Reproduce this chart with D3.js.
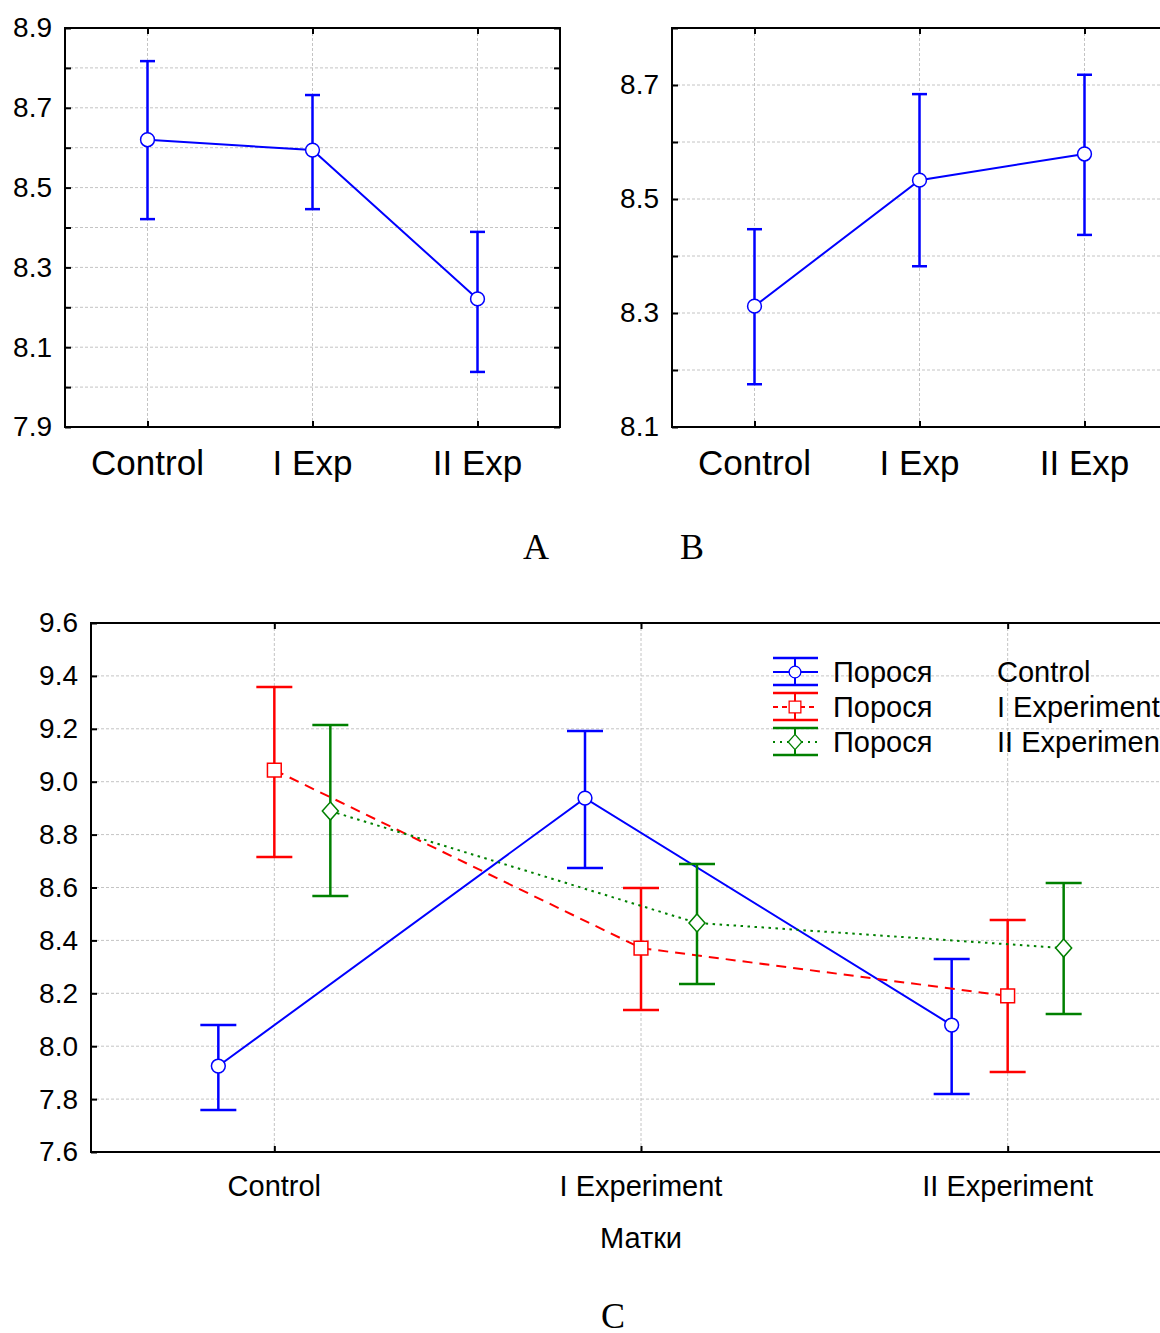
<!DOCTYPE html>
<html>
<head>
<meta charset="utf-8">
<script src="https://cdn.jsdelivr.net/npm/d3@7"></script>
<style>
  body { margin: 0; background: #fff; }
  svg { display: block; font-family: "Liberation Sans", Arial, sans-serif; }
  .grid line { stroke: #c4c4c4; stroke-width: 1; stroke-dasharray: 3,2; }
  .axis path { display: none; }
  .axis line { stroke: #000; stroke-width: 2; }
  .axis text { fill: #000; }
</style>
</head>
<body>
<div id="chart"></div>
<script>
// panel A / B categories
var shortCats = ["Control", "I Exp", "II Exp"];

var aMean = [8.620, 8.594, 8.221],
    aLow  = [8.421, 8.446, 8.038],
    aHigh = [8.817, 8.732, 8.389];

var bMean = [8.312, 8.533, 8.579],
    bLow  = [8.175, 8.382, 8.437],
    bHigh = [8.447, 8.684, 8.718];

// panel C
var sowGroups = ["Control", "I Experiment", "II Experiment"];
var pigGroups = ["Control", "I Experiment", "II Experiment"];

var ctrlMean = [7.925, 8.938, 8.080],
    ctrlLow  = [7.759, 8.674, 7.819],
    ctrlHigh = [8.080, 9.192, 8.330];

var exp1Mean = [9.044, 8.371, 8.190],
    exp1Low  = [8.715, 8.137, 7.902],
    exp1High = [9.358, 8.598, 8.477];

var exp2Mean = [8.889, 8.466, 8.371],
    exp2Low  = [8.568, 8.235, 8.122],
    exp2High = [9.214, 8.689, 8.617];

var width = 1160, height = 1333;

var svg = d3.select("#chart").append("svg")
    .attr("width", width)
    .attr("height", height);

function toRows(cats, mean, low, high) {
  return cats.map(function(c, i) {
    return {cat: c, mean: mean[i], low: low[i], high: high[i]};
  });
}

function frame(g, x0, x1, y0, y1, x, y, gridVals, labelVals, fmt, labelSize) {
  // grid
  var grid = g.append("g").attr("class", "grid");
  grid.selectAll(".h").data(gridVals).enter().append("line")
      .attr("x1", x0).attr("x2", x1)
      .attr("y1", function(d) { return y(d); })
      .attr("y2", function(d) { return y(d); });
  grid.selectAll(".v").data(x.domain()).enter().append("line")
      .attr("x1", function(d) { return x(d); })
      .attr("x2", function(d) { return x(d); })
      .attr("y1", y0).attr("y2", y1);

  // inward ticks on all four sides
  g.append("g").attr("class", "axis")
      .attr("transform", "translate(" + x0 + ",0)")
      .call(d3.axisLeft(y).tickValues(gridVals).tickSize(-6).tickFormat(""));
  g.append("g").attr("class", "axis")
      .attr("transform", "translate(" + x1 + ",0)")
      .call(d3.axisRight(y).tickValues(gridVals).tickSize(-6).tickFormat(""));
  g.append("g").attr("class", "axis")
      .attr("transform", "translate(0," + y1 + ")")
      .call(d3.axisBottom(x).tickSize(-6).tickFormat(""));
  g.append("g").attr("class", "axis")
      .attr("transform", "translate(0," + y0 + ")")
      .call(d3.axisTop(x).tickSize(-6).tickFormat(""));

  // y labels
  g.append("g").attr("class", "axis")
      .attr("transform", "translate(" + x0 + ",0)")
      .call(d3.axisLeft(y).tickValues(labelVals).tickSize(0).tickPadding(13).tickFormat(fmt))
      .selectAll("text")
      .style("font-size", labelSize + "px");

  g.append("rect")
      .attr("x", x0).attr("y", y0)
      .attr("width", x1 - x0).attr("height", y1 - y0)
      .attr("fill", "none")
      .attr("stroke", "#000")
      .attr("stroke-width", 2);
}

function drawSeries(g, rows, x, y, dx, color, cap, shape, dash) {
  var line = d3.line()
      .x(function(d) { return x(d.cat) + dx; })
      .y(function(d) { return y(d.mean); });

  g.append("path")
      .datum(rows)
      .attr("d", line)
      .attr("fill", "none")
      .attr("stroke", color)
      .attr("stroke-width", 2)
      .attr("stroke-dasharray", dash);

  var eb = g.selectAll(null).data(rows).enter().append("g")
      .attr("stroke", color)
      .attr("stroke-width", 2.5);
  eb.append("line")
      .attr("x1", function(d) { return x(d.cat) + dx; })
      .attr("x2", function(d) { return x(d.cat) + dx; })
      .attr("y1", function(d) { return y(d.low); })
      .attr("y2", function(d) { return y(d.high); });
  eb.append("line")
      .attr("x1", function(d) { return x(d.cat) + dx - cap / 2; })
      .attr("x2", function(d) { return x(d.cat) + dx + cap / 2; })
      .attr("y1", function(d) { return y(d.high); })
      .attr("y2", function(d) { return y(d.high); });
  eb.append("line")
      .attr("x1", function(d) { return x(d.cat) + dx - cap / 2; })
      .attr("x2", function(d) { return x(d.cat) + dx + cap / 2; })
      .attr("y1", function(d) { return y(d.low); })
      .attr("y2", function(d) { return y(d.low); });

  g.selectAll(null).data(rows).enter().append("path")
      .attr("transform", function(d) {
        return "translate(" + (x(d.cat) + dx) + "," + y(d.mean) + ")";
      })
      .attr("d", shape)
      .attr("fill", "#fff")
      .attr("stroke", color)
      .attr("stroke-width", 1.5);
}

var circle = d3.symbol().type(d3.symbolCircle).size(150)();
var square = d3.symbol().type(d3.symbolSquare).size(190)();
var diamond = "M0,-9L8,0L0,9L-8,0Z";

// ---------- Panel A ----------
var xA = d3.scalePoint().domain(shortCats).range([65, 560]).padding(0.5);
var yA = d3.scaleLinear().domain([7.9, 8.9]).range([427, 28]);
var gA = svg.append("g");
frame(gA, 65, 560, 28, 427, xA, yA,
      d3.range(7.9, 8.95, 0.1), d3.range(7.9, 8.95, 0.2), d3.format(".1f"), 28);
drawSeries(gA, toRows(shortCats, aMean, aLow, aHigh), xA, yA, 0, "#0000ff", 15, circle, null);
gA.selectAll(".xl").data(shortCats).enter().append("text")
    .attr("x", function(d) { return xA(d); })
    .attr("y", 475)
    .attr("text-anchor", "middle")
    .style("font-size", "35px")
    .text(function(d) { return d; });

// ---------- Panel B ----------
var xB = d3.scalePoint().domain(shortCats).range([672, 1167]).padding(0.5);
var yB = d3.scaleLinear().domain([8.1, 8.8]).range([427, 28]);
var gB = svg.append("g");
frame(gB, 672, 1167, 28, 427, xB, yB,
      d3.range(8.1, 8.85, 0.1), d3.range(8.1, 8.75, 0.2), d3.format(".1f"), 28);
drawSeries(gB, toRows(shortCats, bMean, bLow, bHigh), xB, yB, 0, "#0000ff", 15, circle, null);
gB.selectAll(".xl").data(shortCats).enter().append("text")
    .attr("x", function(d) { return xB(d); })
    .attr("y", 475)
    .attr("text-anchor", "middle")
    .style("font-size", "35px")
    .text(function(d) { return d; });

svg.append("text").attr("x", 536).attr("y", 559).attr("text-anchor", "middle")
    .style("font-family", "'Liberation Serif', 'Times New Roman', serif")
    .style("font-size", "36px").text("A");
svg.append("text").attr("x", 692).attr("y", 559).attr("text-anchor", "middle")
    .style("font-family", "'Liberation Serif', 'Times New Roman', serif")
    .style("font-size", "36px").text("B");

// ---------- Panel C ----------
var xC = d3.scalePoint().domain(sowGroups).range([91, 1191]).padding(0.5);
var yC = d3.scaleLinear().domain([7.6, 9.6]).range([1152, 623]);
var off = d3.scalePoint().domain(pigGroups).range([-56, 56]);
var gC = svg.append("g");
var cTicks = d3.range(7.6, 9.65, 0.2);
frame(gC, 91, 1191, 623, 1152, xC, yC, cTicks, cTicks, d3.format(".1f"), 28);

var colors = ["#0000ff", "#ff0000", "#008000"];
var shapes = [circle, square, diamond];
var dashes = [null, "10,7", "2.5,4.5"];
var cRows = [
  toRows(sowGroups, ctrlMean, ctrlLow, ctrlHigh),
  toRows(sowGroups, exp1Mean, exp1Low, exp1High),
  toRows(sowGroups, exp2Mean, exp2Low, exp2High)
];
pigGroups.forEach(function(p, i) {
  drawSeries(gC, cRows[i], xC, yC, off(p), colors[i], 36, shapes[i], dashes[i]);
});

gC.selectAll(".xl").data(sowGroups).enter().append("text")
    .attr("x", function(d) { return xC(d); })
    .attr("y", 1196)
    .attr("text-anchor", "middle")
    .style("font-size", "29px")
    .text(function(d) { return d; });
gC.append("text").attr("x", 641).attr("y", 1248).attr("text-anchor", "middle")
    .style("font-size", "29px").text("Матки");

// legend
var leg = gC.selectAll(".leg").data(pigGroups).enter().append("g")
    .attr("transform", function(d, i) { return "translate(795," + (672 + i * 35) + ")"; });
leg.each(function(d, i) {
  var l = d3.select(this);
  l.append("line").attr("x1", -22).attr("x2", 23).attr("y1", -14).attr("y2", -14)
      .attr("stroke", colors[i]).attr("stroke-width", 2.5);
  l.append("line").attr("x1", -22).attr("x2", 23).attr("y1", 13).attr("y2", 13)
      .attr("stroke", colors[i]).attr("stroke-width", 2.5);
  l.append("line").attr("x1", 0).attr("x2", 0).attr("y1", -14).attr("y2", 13)
      .attr("stroke", colors[i]).attr("stroke-width", 2);
  l.append("line").attr("x1", -22).attr("x2", 23).attr("y1", 0).attr("y2", 0)
      .attr("stroke", colors[i]).attr("stroke-width", 2)
      .attr("stroke-dasharray", i === 0 ? null : (i === 1 ? "5,4" : "2,5"));
  l.append("path").attr("d", shapes[i])
      .attr("transform", "scale(0.85)")
      .attr("fill", "#fff").attr("stroke", colors[i]).attr("stroke-width", 1.5);
  l.append("text").attr("x", 38).attr("y", 10).style("font-size", "29px").text("Порося");
  l.append("text").attr("x", 202).attr("y", 10).style("font-size", "29px").text(d);
});

svg.append("text").attr("x", 613).attr("y", 1328).attr("text-anchor", "middle")
    .style("font-family", "'Liberation Serif', 'Times New Roman', serif")
    .style("font-size", "36px").text("C");
</script>
</body>
</html>
